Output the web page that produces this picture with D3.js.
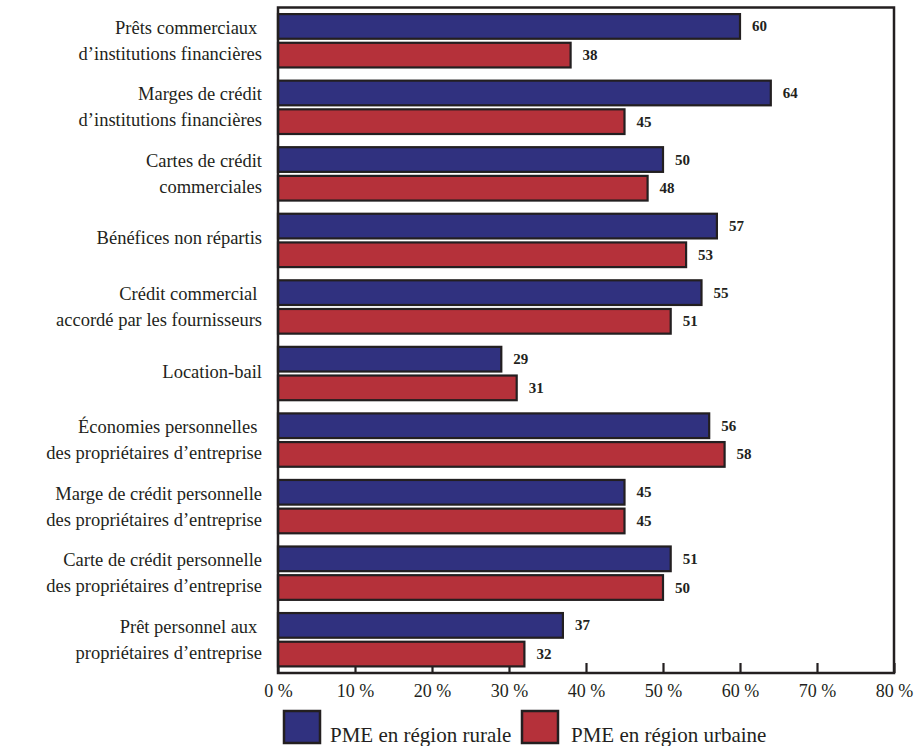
<!DOCTYPE html>
<html>
<head>
<meta charset="utf-8">
<script src="https://cdn.jsdelivr.net/npm/d3@7"></script>
<style>
  html, body { margin: 0; padding: 0; background: #fff; }
  svg { display: block; }
  text { font-family: "Liberation Serif", "Times New Roman", serif; fill: #231f20; }
</style>
</head>
<body>
<svg id="chart" width="919" height="746"></svg>
<script>
const categories = [
  ["Prêts commerciaux\u00a0", "d’institutions financières"],
  ["Marges de crédit", "d’institutions financières"],
  ["Cartes de crédit", "commerciales"],
  ["Bénéfices non répartis"],
  ["Crédit commercial\u00a0", "accordé par les fournisseurs"],
  ["Location-bail"],
  ["Économies personnelles\u00a0", "des propriétaires d’entreprise"],
  ["Marge de crédit personnelle", "des propriétaires d’entreprise"],
  ["Carte de crédit personnelle", "des propriétaires d’entreprise"],
  ["Prêt personnel aux\u00a0", "propriétaires d’entreprise"]
];
const seriesNames = ["PME en région rurale", "PME en région urbaine"];
const rural = [60, 64, 50, 57, 55, 29, 56, 45, 51, 37];
const urban = [38, 45, 48, 53, 51, 31, 58, 45, 50, 32];
const tickValues = [0, 10, 20, 30, 40, 50, 60, 70, 80];
const colors = ["#30317f", "#b5313a"];

(function () {
const svg = d3.select("#chart");
const pLeft = 278, pRight = 894, pTop = 7.5, pBottom = 673;

const x = d3.scaleLinear().domain([0, 80]).range([pLeft, pRight]);
const y = d3.scaleBand().domain(d3.range(categories.length)).range([pTop, pBottom]).padding(0);
const ySub = d3.scaleBand().domain([0, 1]).range([0, y.bandwidth()]).paddingInner(0.14).paddingOuter(0.23);

// inner ticks
const axis = d3.axisBottom(x).tickValues(tickValues).tickSize(-10).tickFormat(d => d + " %");
const gAxis = svg.append("g").attr("transform", `translate(0,${pBottom})`).call(axis);
gAxis.select(".domain").remove();
gAxis.selectAll(".tick line").attr("stroke", "#231f20").attr("stroke-width", 2.2);
gAxis.selectAll(".tick text")
  .attr("y", 24).attr("dy", 0)
  .style("font-size", "18px")
  .style("font-family", "'Liberation Serif', 'Times New Roman', serif")
  .attr("fill", "#231f20");

// bars
const data = categories.map((c, i) => ({ i, vals: [rural[i], urban[i]] }));
const groups = svg.append("g").selectAll("g").data(data).join("g")
  .attr("transform", d => `translate(0,${y(d.i)})`);

groups.selectAll("rect").data(d => d.vals.map((v, s) => ({ v, s }))).join("rect")
  .attr("x", x(0))
  .attr("y", d => ySub(d.s))
  .attr("width", d => x(d.v) - x(0))
  .attr("height", ySub.bandwidth())
  .attr("fill", d => colors[d.s])
  .attr("stroke", "#231f20")
  .attr("stroke-width", 2.2);

groups.selectAll("text.val").data(d => d.vals.map((v, s) => ({ v, s }))).join("text")
  .attr("class", "val")
  .attr("x", d => x(d.v) + 12)
  .attr("y", d => ySub(d.s) + ySub.bandwidth() / 2 + 5)
  .style("font-size", "15px")
  .style("font-weight", "bold")
  .text(d => d.v);

// category labels
groups.each(function(d) {
  const lines = categories[d.i];
  const g = d3.select(this);
  const t = g.append("text")
    .attr("text-anchor", "end")
    .style("font-size", "18.5px")
    .style("white-space", "pre");
  if (lines.length === 2) {
    const mid = y.bandwidth() / 2;
    lines.forEach((ln, k) => {
      t.append("tspan").attr("x", 262)
        .attr("y", mid + (k === 0 ? -7 : 19))
        .text(ln);
    });
  } else {
    t.append("tspan").attr("x", 262)
      .attr("y", y.bandwidth() / 2 + 4)
      .text(lines[0]);
  }
});

// frame
svg.append("rect")
  .attr("x", pLeft).attr("y", pTop)
  .attr("width", pRight - pLeft).attr("height", pBottom - pTop)
  .attr("fill", "none").attr("stroke", "#231f20").attr("stroke-width", 2.5);

// legend
const legendItems = [{ x: 284, s: 0 }, { x: 522, s: 1 }];
const lg = svg.append("g").selectAll("g").data(legendItems).join("g");
lg.append("rect")
  .attr("x", d => d.x).attr("y", 711)
  .attr("width", 36).attr("height", 32)
  .attr("fill", d => colors[d.s])
  .attr("stroke", "#231f20").attr("stroke-width", 2.5);
lg.append("text")
  .attr("x", (d, i) => d.x + (i === 0 ? 46 : 49)).attr("y", 742)
  .style("font-size", "21px")
  .text(d => seriesNames[d.s]);
})();
</script>
</body>
</html>
